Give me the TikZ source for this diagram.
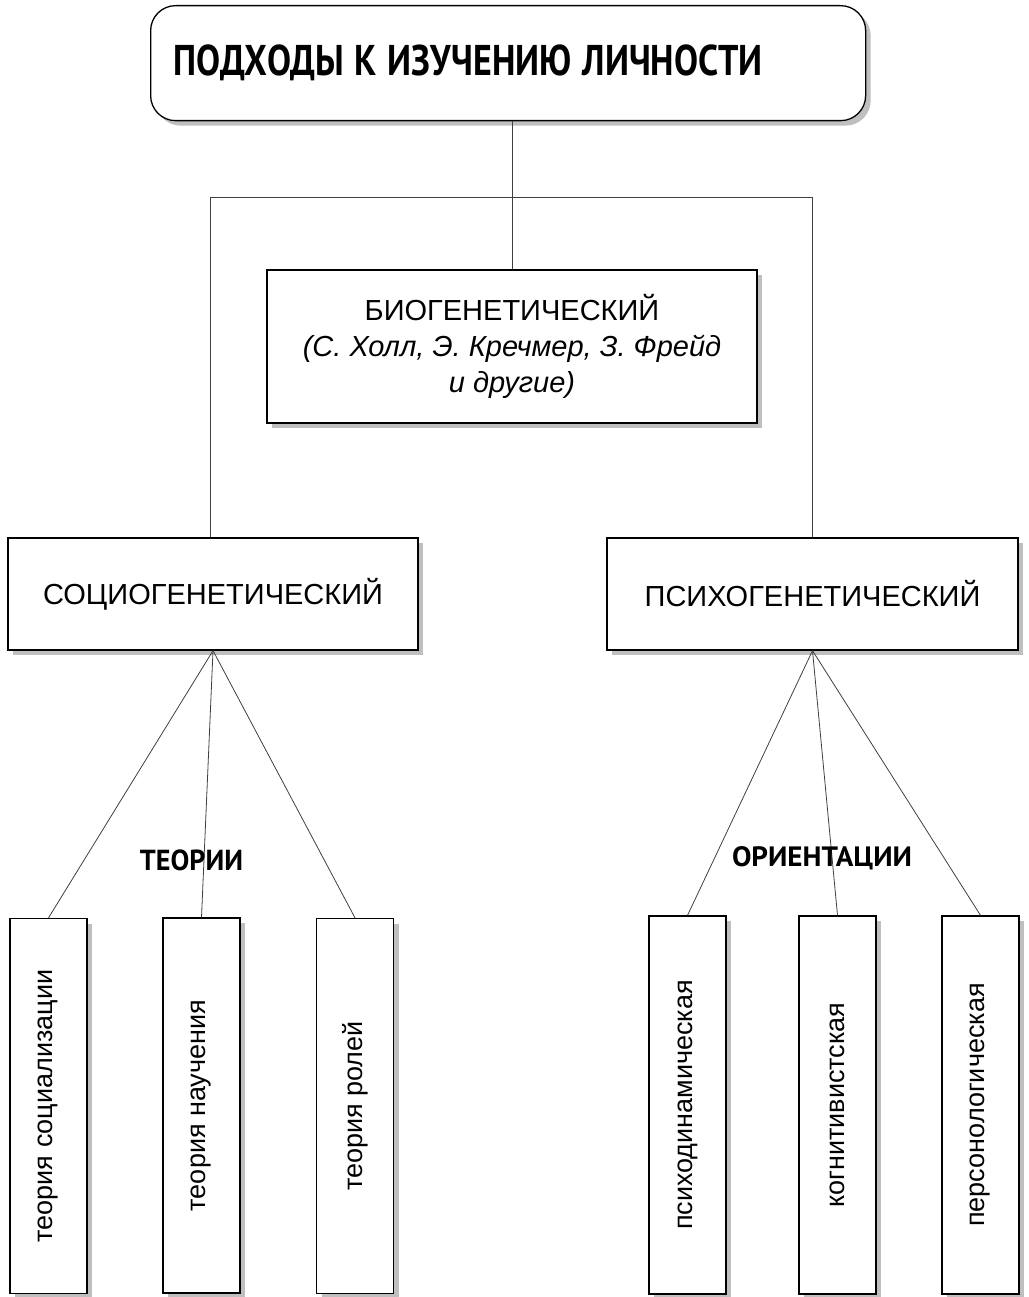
\documentclass[tikz,border=0pt]{standalone}
\usepackage{graphicx}
\usepackage{fontspec}
\setmainfont{Liberation Sans}
\newfontfamily\hdfont{PT Sans}
\usetikzlibrary{shadows}
\begin{document}
\begin{tikzpicture}[x=1pt,y=-1pt,
  box/.style={draw=black, line width=1.3pt, fill=white, inner sep=0pt,
    drop shadow={shadow xshift=5pt, shadow yshift=-5pt, fill=gray!50, opacity=1}},
  conn/.style={draw=black!75, line width=0.8pt},
  lbl/.style={font=\fontsize{29}{36}\selectfont},
  vbox/.style={box, minimum width=77pt, minimum height=375pt, font=\fontsize{27}{32}\selectfont},
  hd/.style={anchor=base, inner sep=0pt}]
\useasboundingbox (0,0) rectangle (1028,1297);

\node[box, rounded corners=25pt, minimum width=715pt, minimum height=115pt,
      anchor=north west, text width=669pt, align=left, inner xsep=23pt] (top) at (150,5)
  {\resizebox{589pt}{\height}{\hdfont\bfseries\fontsize{43}{50}\selectfont ПОДХОДЫ\hspace{0.3em}К\hspace{0.3em}ИЗУЧЕНИЮ\hspace{0.3em}ЛИЧНОСТИ}};

\node[box, lbl, minimum width=490pt, minimum height=153pt, align=center] (bio) at (512,346.5)
  {БИОГЕНЕТИЧЕСКИЙ\\\textit{(С. Холл, Э. Кречмер, З. Фрейд}\\\textit{и другие)}};

\node[box, lbl, minimum width=410pt, minimum height=112pt] (socio) at (213,594) {СОЦИОГЕНЕТИЧЕСКИЙ};
\node[box, lbl, minimum width=411pt, minimum height=112pt] (psycho) at (812.5,594) {ПСИХОГЕНЕТИЧЕСКИЙ};

\node[vbox] (t1) at (48.5,1106) {\rotatebox{90}{теория социализации}};
\node[vbox] (t2) at (201.5,1105.5) {\rotatebox{90}{теория научения}};
\node[vbox] (t3) at (355,1106) {\rotatebox{90}{теория ролей}};

\node[vbox, minimum height=378pt] (o1) at (687.5,1105) {\rotatebox{90}{психодинамическая}};
\node[vbox, minimum height=378pt] (o2) at (837.5,1105) {\rotatebox{90}{когнитивистская}};
\node[vbox, minimum height=378pt] (o3) at (980.5,1105) {\rotatebox{90}{персонологическая}};

\coordinate (j) at (512,197);
\coordinate (jl) at (210,197);
\coordinate (jr) at (812,197);

\draw[conn] (top.south -| j) -- (bio.north -| j);
\draw[conn] (socio.north -| jl) -- (jl) -- (jr) -- (psycho.north -| jr);

\draw[conn] (socio.south) -- (t1.north);
\draw[conn] (socio.south) -- (t2.north);
\draw[conn] (socio.south) -- (t3.north);
\draw[conn] (psycho.south) -- (o1.north);
\draw[conn] (psycho.south) -- (o2.north);
\draw[conn] (psycho.south) -- (o3.north);

\node[hd] (th) at (191.5,870) {\resizebox{103pt}{\height}{\hdfont\bfseries\fontsize{29}{34}\selectfont ТЕОРИИ}};
\node[hd] (oh) at (822,866) {\resizebox{180pt}{\height}{\hdfont\bfseries\fontsize{28}{34}\selectfont ОРИЕНТАЦИИ}};
\end{tikzpicture}
\end{document}
